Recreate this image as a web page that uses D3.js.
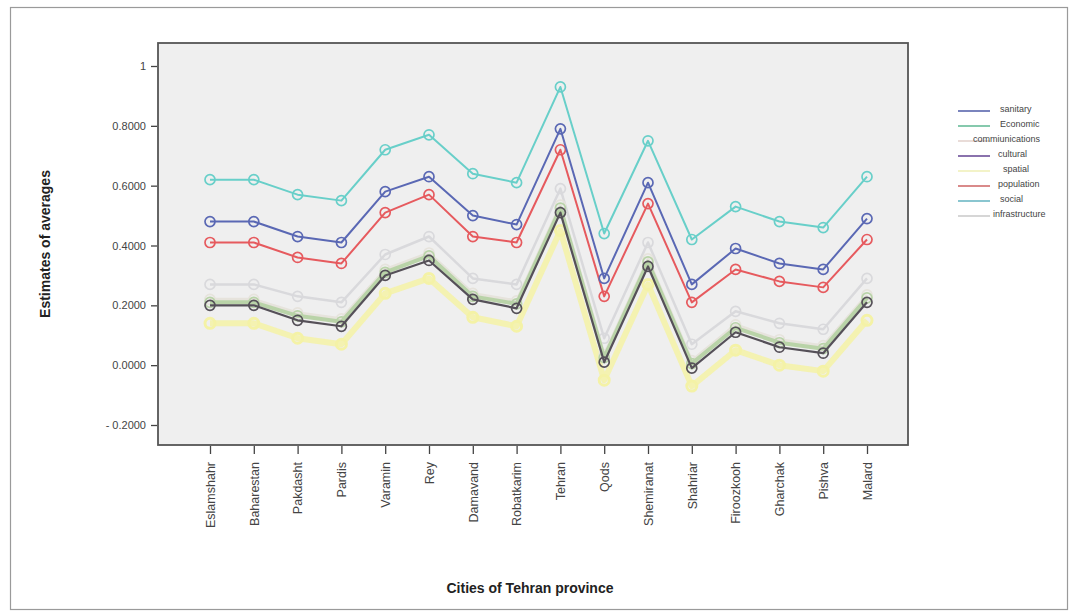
<!DOCTYPE html>
<meta charset="utf-8">
<script src="https://cdnjs.cloudflare.com/ajax/libs/d3/7.8.5/d3.min.js"></script>
<style>
  body { margin: 0; background: #fff; }
  text { font-family: Arial, "Liberation Sans", sans-serif; }
</style>
<div id="chart"></div>
<script>
  // cities on the x axis
  const cities = ['Eslamshahr', 'Baharestan', 'Pakdasht', 'Pardis', 'Varamin', 'Rey', 'Damavand', 'Robatkarim',
    'Tehran', 'Qods', 'Shemiranat', 'Shahriar', 'Firoozkooh', 'Gharchak', 'Pishva', 'Malard']

  // estimated means per index
  const sanitary = [0.48, 0.48, 0.43, 0.41, 0.58, 0.63, 0.50, 0.47, 0.79, 0.29, 0.61, 0.27, 0.39, 0.34, 0.32, 0.49]
  const economic = [0.21, 0.21, 0.165, 0.145, 0.31, 0.365, 0.23, 0.205, 0.525, 0.025, 0.345, 0.005, 0.125, 0.075, 0.055, 0.225]
  const communications = [0.22, 0.22, 0.175, 0.155, 0.32, 0.375, 0.24, 0.215, 0.535, 0.035, 0.355, 0.015, 0.135, 0.085, 0.065, 0.235]
  const cultural = [0.20, 0.20, 0.15, 0.13, 0.30, 0.35, 0.22, 0.19, 0.51, 0.01, 0.33, -0.01, 0.11, 0.06, 0.04, 0.21]
  const spatial = [0.14, 0.14, 0.09, 0.07, 0.24, 0.29, 0.16, 0.13, 0.45, -0.05, 0.27, -0.07, 0.05, 0.00, -0.02, 0.15]
  const population = [0.41, 0.41, 0.36, 0.34, 0.51, 0.57, 0.43, 0.41, 0.72, 0.23, 0.54, 0.21, 0.32, 0.28, 0.26, 0.42]
  const social = [0.62, 0.62, 0.57, 0.55, 0.72, 0.77, 0.64, 0.61, 0.93, 0.44, 0.75, 0.42, 0.53, 0.48, 0.46, 0.63]
  const infrastructure = [0.27, 0.27, 0.23, 0.21, 0.37, 0.43, 0.29, 0.27, 0.59, 0.09, 0.41, 0.07, 0.18, 0.14, 0.12, 0.29]

  const yTicks = [-0.2, 0, 0.2, 0.4, 0.6, 0.8, 1]

  // legend order, drawing order is separate (light ones go underneath)
  const series = [
    { name: 'sanitary', label: 'sanitary', values: sanitary, color: '#5a68b4', legend: '#7a84bd', w: 2, dx: 0 },
    { name: 'economic', label: 'Economic', values: economic, color: '#b9d3a8', legend: '#86c9ad', w: 4, dx: 0 },
    { name: 'communications', label: 'commiunications', values: communications, color: '#e6e3dc', legend: '#e9dcd8', w: 3, dx: -27 },
    { name: 'cultural', label: 'cultural', values: cultural, color: '#555058', legend: '#8a72ad', w: 2.2, dx: -2 },
    { name: 'spatial', label: 'spatial', values: spatial, color: '#f4f2a6', legend: '#f3f3c8', w: 6, dx: 3 },
    { name: 'population', label: 'population', values: population, color: '#e65a5e', legend: '#d98a8a', w: 2, dx: -2 },
    { name: 'social', label: 'social', values: social, color: '#68cfc9', legend: '#8ac6d0', w: 2, dx: 0 },
    { name: 'infrastructure', label: 'infrastructure', values: infrastructure, color: '#d9d9dc', legend: '#d6d6d6', w: 2.5, dx: -7 }
  ]
  const drawOrder = ['spatial', 'infrastructure', 'communications', 'economic', 'cultural', 'population', 'sanitary', 'social']

  const W = 1074, H = 615
  const plot = { left: 158, top: 43, right: 908, bottom: 445 }

  const svg = d3.select('#chart').append('svg')
    .attr('width', W).attr('height', H)

  // outer frame
  svg.append('rect')
    .attr('x', 10.5).attr('y', 7.5).attr('width', 1057).attr('height', 602)
    .attr('fill', '#fff').attr('stroke', '#9a9a9a').attr('stroke-width', 1.2)

  const x = d3.scalePoint().domain(cities).range([210, 867])
  const y = d3.scaleLinear().domain([-0.2, 1]).range([425, 66])

  // plot area
  svg.append('rect')
    .attr('x', plot.left).attr('y', plot.top)
    .attr('width', plot.right - plot.left).attr('height', plot.bottom - plot.top)
    .attr('fill', '#efefef').attr('stroke', '#555').attr('stroke-width', 1.8)

  // y axis
  const yAxis = svg.append('g')
    .attr('transform', 'translate(' + (plot.left - 1) + ',0)')
    .call(d3.axisLeft(y).tickValues(yTicks).tickSize(6).tickPadding(5)
      .tickFormat(d => d === 1 ? '1' : (d < 0 ? '- ' + Math.abs(d).toFixed(4) : d.toFixed(4))))
  yAxis.select('.domain').remove()
  yAxis.selectAll('line').attr('stroke', '#444').attr('stroke-width', 1.3)
  yAxis.selectAll('text').attr('font-size', 11).attr('fill', '#444')

  // x axis
  const xAxis = svg.append('g')
    .attr('transform', 'translate(0,' + (plot.bottom + 1) + ')')
    .call(d3.axisBottom(x).tickSize(8).tickPadding(0))
  xAxis.select('.domain').remove()
  xAxis.selectAll('line').attr('stroke', '#444').attr('stroke-width', 1.3)
  xAxis.selectAll('text')
    .attr('font-size', 12.5).attr('fill', '#444')
    .attr('text-anchor', 'end')
    .attr('transform', 'translate(0,16) rotate(-90)')
    .attr('x', 0).attr('y', 0).attr('dy', '0.35em')

  // axis titles
  svg.append('text')
    .attr('x', 530).attr('y', 593)
    .attr('text-anchor', 'middle')
    .attr('font-size', 14).attr('font-weight', 'bold').attr('fill', '#222')
    .text('Cities of Tehran province')

  svg.append('text')
    .attr('transform', 'translate(50,244) rotate(-90)')
    .attr('text-anchor', 'middle')
    .attr('font-size', 14).attr('font-weight', 'bold').attr('fill', '#222')
    .text('Estimates of averages')

  const line = d3.line()
    .x((d, i) => x(cities[i]))
    .y(d => y(d))

  const byName = {}
  series.forEach(s => { byName[s.name] = s })

  drawOrder.forEach(function (name) {
    const s = byName[name]
    const g = svg.append('g')
    g.append('path')
      .datum(s.values)
      .attr('fill', 'none')
      .attr('stroke', s.color)
      .attr('stroke-width', s.w)
      .attr('stroke-linejoin', 'round')
      .attr('opacity', name === 'spatial' ? 0.85 : 1)
      .attr('d', line)
    g.selectAll('circle')
      .data(s.values)
      .join('circle')
      .attr('cx', (d, i) => x(cities[i]))
      .attr('cy', d => y(d))
      .attr('r', 5)
      .attr('fill', 'none')
      .attr('stroke', s.color)
      .attr('stroke-width', name === 'spatial' ? 3 : 1.7)
  })

  // legend
  const legend = svg.append('g')
  series.forEach(function (s, i) {
    const ly = 111 + i * 15
    legend.append('line')
      .attr('x1', 958).attr('x2', 990)
      .attr('y1', ly).attr('y2', ly)
      .attr('stroke', s.legend).attr('stroke-width', 2)
    legend.append('text')
      .attr('x', 1000 + s.dx).attr('y', ly)
      .attr('dy', '0.1em')
      .attr('font-size', 9).attr('fill', '#444')
      .text(s.label)
  })
</script>
